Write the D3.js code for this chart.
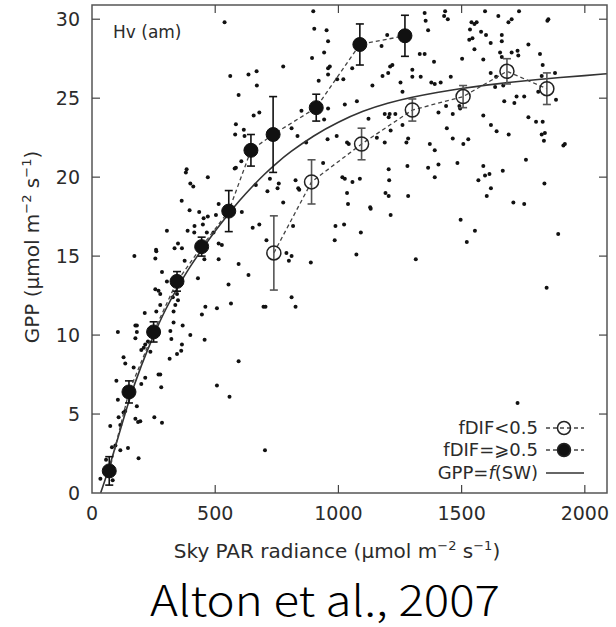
<!DOCTYPE html>
<html>
<head>
<meta charset="utf-8">
<script src="https://cdn.jsdelivr.net/npm/d3@7"></script>
<style>
  body { margin: 0; background: #fff; }
  svg text { font-family: "DejaVu Sans", Arial, sans-serif; fill: #2b2b2b; }
</style>
</head>
<body>
<svg width="616" height="627"></svg>
<script>
// ticks
var xTicks = [0, 500, 1000, 1500, 2000];
var yTicks = [0, 5, 10, 15, 20, 25, 30];

// bin means, fDIF >= 0.5 (filled)
var highX   = [70, 150, 250, 345, 445, 555, 645, 735, 910, 1087, 1270];
var highGPP = [1.4, 6.4, 10.2, 13.4, 15.6, 17.85, 21.7, 22.7, 24.4, 28.4, 28.95];
var highErr = [0.9, 0.7, 0.64, 0.62, 0.6, 1.3, 1.0, 2.4, 0.85, 1.3, 1.3];

// bin means, fDIF < 0.5 (open)
var lowX   = [738, 891, 1094, 1300, 1506, 1684, 1846];
var lowGPP = [15.2, 19.7, 22.1, 24.25, 25.1, 26.7, 25.6];
var lowErr = [2.35, 1.4, 1.0, 0.7, 0.7, 0.8, 1.0];

// GPP = f(SW)
var fitX   = [35, 70, 100, 150, 200, 250, 300, 350, 400, 450, 500, 550, 600, 650, 700, 750, 800, 900, 1000, 1100, 1200, 1300, 1400, 1500, 1600, 1700, 1800, 1900, 2000, 2090];
var fitGPP = [0, 1.6, 3.2, 5.9, 8.1, 10.0, 11.7, 13.1, 14.4, 15.5, 16.6, 17.6, 18.55, 19.4, 20.2, 20.9, 21.55, 22.65, 23.5, 24.2, 24.7, 25.07, 25.37, 25.62, 25.83, 26.01, 26.17, 26.31, 26.43, 26.55];

// half-hourly observations
var obs = [
  [538,29.8],[561,26.4],[635,26.5],[668,26.7],[669,25.8],[595,25.2],[679,24.1],[656,23.9],[584,23.35],[616,23.0],
  [581,22.7],[619,22.6],[579,20.55],[584,20.6],[606,21.0],[665,19.5],[384,20.5],[381,20.3],[470,20.0],[399,19.6],
  [411,19.4],[364,18.5],[514,18.3],[396,17.9],[435,17.8],[470,17.5],[453,17.4],[503,17.6],[608,17.8],[416,16.9],
  [450,17.0],[304,16.6],[388,16.6],[415,16.5],[466,16.5],[493,16.5],[652,16.8],[679,17.0],[349,15.8],[335,15.5],
  [365,15.5],[260,15.4],[514,15.8],[527,15.7],
  [898,30.5],[902,29.4],[952,29.3],[958,28.6],[942,27.9],[893,27.55],[776,27.0],[965,27.0],[958,26.9],[958,26.5],
  [920,26.1],[995,26.2],[1020,26.2],[1056,26.9],[1138,25.8],[1175,28.3],[1198,29.0],[1210,27.0],[1219,27.1],[1202,26.6],
  [1179,26.4],[1252,26.0],[1260,25.4],[1300,26.8],[1300,26.35],[1334,26.35],[1330,27.8],[1350,27.8],[1350,30.4],[1354,29.9],
  [1364,29.3],[1388,27.3],[1377,26.0],[1391,25.9],[1075,24.8],[1026,24.6],[850,24.2],[958,24.35],[942,23.65],[810,23.1],
  [834,22.6],[869,22.2],[956,22.4],[993,22.6],[1035,22.2],[1042,22.1],[1122,23.7],[1188,24.0],[1208,24.0],[1204,23.8],
  [1231,24.0],[1260,23.3],[1212,22.95],[1283,22.45],[1276,22.2],[1188,22.2],[1156,22.5],[1371,22.1],[1391,21.7],[722,19.9],
  [758,19.6],[753,19.3],[712,19.1],[826,19.8],[837,19.3],[841,19.2],[938,20.9],[1016,20.0],[1026,19.9],[1057,19.7],
  [1087,19.9],[1035,19.0],[1039,18.3],[1129,18.1],[1131,18.0],[1191,19.0],[1204,18.8],[1206,19.8],[1204,20.5],[1280,20.7],
  [1283,18.8],[1364,20.6],[1391,20.0],[1212,17.6],[988,16.9],[1023,17.0],[1091,16.5],[985,16.0],[816,16.9],[776,18.4],
  [708,16.0],
  [1433,30.5],[1429,30.2],[1444,30.0],[1595,30.5],[1649,30.2],[1733,30.5],[1690,29.8],[1703,30.0],[1540,29.8],[1561,29.8],
  [1552,29.7],[1534,29.35],[1531,28.7],[1544,28.8],[1579,29.2],[1599,29.0],[1663,29.0],[1663,28.6],[1618,28.5],[1552,28.1],
  [1502,27.5],[1588,27.45],[1771,28.4],[1727,28.0],[1703,27.9],[1730,27.7],[1656,27.9],[1663,27.6],[1818,27.8],[1829,27.1],
  [1852,30.0],[1848,29.9],[1618,26.6],[1640,26.35],[1636,25.7],[1669,25.8],[1825,26.4],[1879,26.6],[1456,26.35],[1415,26.0],
  [1406,24.1],[1437,24.5],[1464,24.0],[1494,24.35],[1491,24.5],[1440,23.1],[1464,22.45],[1507,22.1],[1527,22.4],[1588,23.9],
  [1619,23.3],[1642,22.9],[1691,22.7],[1673,24.8],[1714,24.7],[1723,25.1],[1754,25.1],[1883,24.9],[1771,23.8],[1802,23.5],
  [1829,23.5],[1811,25.4],[1825,22.7],[1838,22.8],[1834,22.3],[1913,22.0],[1919,22.1],[1761,21.1],[1406,20.8],[1483,20.9],
  [1588,20.7],[1595,20.1],[1613,20.2],[1568,19.8],[1619,19.3],[1602,18.8],[1667,20.4],[1710,18.4],[1754,18.3],[1836,19.6],
  [1496,17.3],[1554,16.6],[1521,15.9],[1892,16.4],
  [172,15.0],[257,14.85],[261,15.3],[284,14.0],[304,13.4],[257,12.9],[270,12.8],[277,12.6],[328,12.4],[345,12.6],
  [349,12.2],[338,11.9],[331,11.5],[277,11.9],[261,11.5],[214,11.4],[376,14.7],[430,13.6],[456,14.8],[514,14.8],
  [595,14.5],[635,13.8],[554,13.2],[564,12.0],[460,11.8],[446,11.3],[507,11.7],[696,11.8],[176,10.6],[182,10.6],
  [182,10.2],[105,10.2],[176,9.8],[227,9.6],[216,9.4],[210,9.2],[237,8.95],[200,9.05],[331,10.8],[368,10.6],
  [318,10.25],[322,9.75],[399,10.0],[457,9.7],[365,9.4],[362,9.0],[345,8.8],[315,8.5],[128,8.6],[135,8.2],
  [169,7.95],[216,7.3],[200,6.9],[277,7.5],[270,7.5],[281,6.7],[99,7.1],[105,5.9],[182,5.5],[135,5.2],
  [128,5.1],[108,4.8],[176,4.7],[187,4.5],[196,4.55],[253,4.8],[284,4.45],[74,4.25],[115,4.3],[95,3.0],
  [81,2.9],[115,2.7],[146,2.85],[189,2.2],[57,2.1],[34,0.9],[84,0.8],[595,8.35],[507,6.8],[558,6.1],
  [702,2.7],
  [789,15.2],[810,15.0],[799,14.7],[888,14.6],[1073,15.1],[1314,14.8],[810,12.4],[826,11.8],[704,11.8],
  [1845,13.0],[1727,5.7]
];

var svg = d3.select("svg");
var plotL = 92, plotR = 607, plotT = 5, plotB = 493;

var x = d3.scaleLinear().domain([0, 2090]).range([plotL, plotR]);
var y = d3.scaleLinear().domain([0, 30.9]).range([plotB, plotT]);

var plot = svg.append("g");

// observations
plot.append("g").selectAll("circle")
  .data(obs)
  .enter().append("circle")
  .attr("cx", function(d) { return x(d[0]); })
  .attr("cy", function(d) { return y(d[1]); })
  .attr("r", 2)
  .attr("fill", "#111");

// fitted curve
var line = d3.line()
  .x(function(d) { return x(d[0]); })
  .y(function(d) { return y(d[1]); })
  .curve(d3.curveBasis);
plot.append("path")
  .datum(d3.zip(fitX, fitGPP))
  .attr("d", line)
  .attr("fill", "none")
  .attr("stroke", "#333")
  .attr("stroke-width", 1.6);

function drawSeries(xs, ys, es, filled, barColor) {
  var pts = d3.zip(xs, ys, es);
  var lin = d3.line()
    .x(function(d) { return x(d[0]); })
    .y(function(d) { return y(d[1]); });
  plot.append("path")
    .datum(pts)
    .attr("d", lin)
    .attr("fill", "none")
    .attr("stroke", "#444")
    .attr("stroke-width", 1.3)
    .attr("stroke-dasharray", "4,3");
  var g = plot.append("g").selectAll("g")
    .data(pts)
    .enter().append("g");
  g.append("line")
    .attr("x1", function(d) { return x(d[0]); })
    .attr("x2", function(d) { return x(d[0]); })
    .attr("y1", function(d) { return y(d[1] - d[2]); })
    .attr("y2", function(d) { return y(d[1] + d[2]); })
    .attr("stroke", barColor).attr("stroke-width", 1.6);
  [-1, 1].forEach(function(s) {
    g.append("line")
      .attr("x1", function(d) { return x(d[0]) - 4; })
      .attr("x2", function(d) { return x(d[0]) + 4; })
      .attr("y1", function(d) { return y(d[1] + s * d[2]); })
      .attr("y2", function(d) { return y(d[1] + s * d[2]); })
      .attr("stroke", barColor).attr("stroke-width", 1.6);
  });
  g.append("circle")
    .attr("cx", function(d) { return x(d[0]); })
    .attr("cy", function(d) { return y(d[1]); })
    .attr("r", 7)
    .attr("fill", filled ? "#111" : "none")
    .attr("stroke", filled ? "#111" : "#222")
    .attr("stroke-width", filled ? 1 : 1.5);
}
drawSeries(lowX, lowGPP, lowErr, false, "#555");
drawSeries(highX, highGPP, highErr, true, "#111");

// frame and inward ticks
svg.append("rect")
  .attr("x", plotL).attr("y", plotT)
  .attr("width", plotR - plotL).attr("height", plotB - plotT)
  .attr("fill", "none").attr("stroke", "#555").attr("stroke-width", 1.5);

var tk = svg.append("g").attr("stroke", "#444").attr("stroke-width", 1.2);
xTicks.forEach(function(t) {
  if (t === 0) return;
  tk.append("line").attr("x1", x(t)).attr("x2", x(t)).attr("y1", plotB).attr("y2", plotB - 8);
  tk.append("line").attr("x1", x(t)).attr("x2", x(t)).attr("y1", plotT).attr("y2", plotT + 8);
});
yTicks.forEach(function(t) {
  if (t === 0) return;
  tk.append("line").attr("y1", y(t)).attr("y2", y(t)).attr("x1", plotL).attr("x2", plotL + 8);
  tk.append("line").attr("y1", y(t)).attr("y2", y(t)).attr("x1", plotR).attr("x2", plotR - 8);
});

svg.append("g").selectAll("text")
  .data(xTicks).enter().append("text")
  .attr("x", function(d) { return x(d); })
  .attr("y", 520)
  .attr("text-anchor", "middle")
  .attr("font-size", 19)
  .text(function(d) { return d; });

svg.append("g").selectAll("text")
  .data(yTicks).enter().append("text")
  .attr("x", 80)
  .attr("y", function(d) { return y(d) + 7; })
  .attr("text-anchor", "end")
  .attr("font-size", 19)
  .text(function(d) { return d; });

// axis titles
function unitLabel(sel, prefix) {
  sel.append("tspan").text(prefix + "(\u00b5mol m");
  sel.append("tspan").attr("dy", -8).attr("font-size", 13).text("\u22122");
  sel.append("tspan").attr("dy", 8).text(" s");
  sel.append("tspan").attr("dy", -8).attr("font-size", 13).text("\u22121");
  sel.append("tspan").attr("dy", 8).text(")");
}
var xl = svg.append("text")
  .attr("x", 337).attr("y", 558)
  .attr("text-anchor", "middle")
  .attr("font-size", 20);
unitLabel(xl, "Sky PAR radiance ");

var yl = svg.append("text")
  .attr("transform", "translate(39,247) rotate(-90)")
  .attr("text-anchor", "middle")
  .attr("font-size", 20);
unitLabel(yl, "GPP ");

svg.append("text")
  .attr("x", 113).attr("y", 38)
  .attr("font-size", 17)
  .text("Hv (am)");

// legend
var legend = svg.append("g");
var rows = [
  { y: 428, type: "open", label: "fDIF<0.5" },
  { y: 450, type: "filled", label: "fDIF=\u2a7e0.5" },
  { y: 473, type: "fit", label: "GPP=" }
];
rows.forEach(function(r) {
  var t = legend.append("text")
    .attr("x", 538).attr("y", r.y + 6)
    .attr("text-anchor", "end")
    .attr("font-size", 18);
  if (r.type === "fit") {
    t.append("tspan").text("GPP=");
    t.append("tspan").attr("font-style", "italic").text("f");
    t.append("tspan").text("(SW)");
    legend.append("line")
      .attr("x1", 546).attr("x2", 584).attr("y1", r.y).attr("y2", r.y)
      .attr("stroke", "#333").attr("stroke-width", 1.6);
  } else {
    t.text(r.label);
    legend.append("line")
      .attr("x1", 546).attr("x2", 584).attr("y1", r.y).attr("y2", r.y)
      .attr("stroke", "#444").attr("stroke-width", 1.3).attr("stroke-dasharray", "4,3");
    legend.append("circle")
      .attr("cx", 564).attr("cy", r.y).attr("r", 6.5)
      .attr("fill", r.type === "filled" ? "#111" : "none")
      .attr("stroke", "#222").attr("stroke-width", 1.5);
  }
});

// caption
svg.append("text")
  .attr("x", 325).attr("y", 616)
  .attr("text-anchor", "middle")
  .attr("font-size", 42)
  .attr("textLength", 350)
  .attr("lengthAdjust", "spacingAndGlyphs")
  .style("font-family", "'Noto Sans CJK SC', 'Noto Sans', sans-serif")
  .style("font-weight", 300)
  .style("fill", "#000")
  .text("Alton et al., 2007");
</script>
</body>
</html>
